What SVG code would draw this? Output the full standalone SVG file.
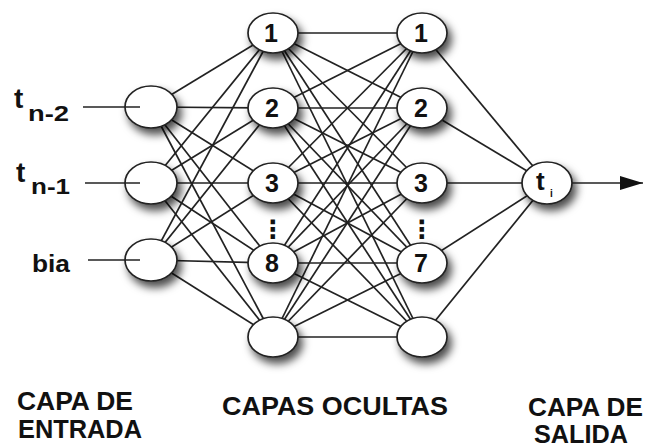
<svg xmlns="http://www.w3.org/2000/svg" width="645" height="447" viewBox="0 0 645 447">
<defs>
<filter id="sh" x="-50%" y="-50%" width="220%" height="220%">
<feDropShadow dx="4" dy="6" stdDeviation="4" flood-color="#000" flood-opacity="0.7"/>
</filter>
<marker id="arr" markerWidth="23" markerHeight="14" refX="23" refY="7" orient="auto" markerUnits="userSpaceOnUse"><path d="M0,0 L23,7 L0,14 Z" fill="#111"/></marker>
</defs>
<style>
.n ellipse{fill:#fff;stroke:#222;stroke-width:1.7}
.n .s{filter:url(#sh)}
.c line{stroke:#222;stroke-width:1.7}
text{font-family:"Liberation Sans",Arial,sans-serif;font-weight:bold;fill:#111}
.d{font-size:25px;text-anchor:middle}
.lbl{font-size:25px}
.dots{font-family:"DejaVu Sans",sans-serif;font-size:25px;text-anchor:middle}
</style>
<rect width="645" height="447" fill="#fff"/>
<g id="connectors" class="c">
<line x1="151" y1="107" x2="273" y2="33"/><line x1="151" y1="107" x2="273" y2="108"/><line x1="151" y1="107" x2="273" y2="183"/><line x1="151" y1="107" x2="273" y2="263"/><line x1="151" y1="107" x2="273" y2="337"/>
<line x1="151" y1="183" x2="273" y2="33"/><line x1="151" y1="183" x2="273" y2="108"/><line x1="151" y1="183" x2="273" y2="183"/><line x1="151" y1="183" x2="273" y2="263"/><line x1="151" y1="183" x2="273" y2="337"/>
<line x1="151" y1="260" x2="273" y2="33"/><line x1="151" y1="260" x2="273" y2="108"/><line x1="151" y1="260" x2="273" y2="183"/><line x1="151" y1="260" x2="273" y2="263"/><line x1="151" y1="260" x2="273" y2="337"/>
<line x1="273" y1="33" x2="422" y2="33"/><line x1="273" y1="33" x2="422" y2="108"/><line x1="273" y1="33" x2="422" y2="183"/><line x1="273" y1="33" x2="422" y2="263"/><line x1="273" y1="33" x2="422" y2="337"/>
<line x1="273" y1="108" x2="422" y2="33"/><line x1="273" y1="108" x2="422" y2="108"/><line x1="273" y1="108" x2="422" y2="183"/><line x1="273" y1="108" x2="422" y2="263"/><line x1="273" y1="108" x2="422" y2="337"/>
<line x1="273" y1="183" x2="422" y2="33"/><line x1="273" y1="183" x2="422" y2="108"/><line x1="273" y1="183" x2="422" y2="183"/><line x1="273" y1="183" x2="422" y2="263"/><line x1="273" y1="183" x2="422" y2="337"/>
<line x1="273" y1="263" x2="422" y2="33"/><line x1="273" y1="263" x2="422" y2="108"/><line x1="273" y1="263" x2="422" y2="183"/><line x1="273" y1="263" x2="422" y2="263"/><line x1="273" y1="263" x2="422" y2="337"/>
<line x1="273" y1="337" x2="422" y2="33"/><line x1="273" y1="337" x2="422" y2="108"/><line x1="273" y1="337" x2="422" y2="183"/><line x1="273" y1="337" x2="422" y2="263"/><line x1="273" y1="337" x2="422" y2="337"/>
<line x1="422" y1="33" x2="547" y2="183"/><line x1="422" y1="108" x2="547" y2="183"/><line x1="422" y1="183" x2="547" y2="183"/><line x1="422" y1="263" x2="547" y2="183"/><line x1="422" y1="337" x2="547" y2="183"/>
</g>
<g id="in1" class="n"><ellipse class="s" cx="151" cy="107" rx="26" ry="21"/></g>
<g id="in2" class="n"><ellipse class="s" cx="151" cy="183" rx="26" ry="21"/></g>
<g id="in3" class="n"><ellipse class="s" cx="151" cy="260" rx="26" ry="21"/></g>
<g id="h1_1" class="n"><ellipse class="s" cx="273" cy="33" rx="25" ry="20"/><text class="d" x="271" y="42">1</text></g>
<g id="h1_2" class="n"><ellipse class="s" cx="273" cy="108" rx="25" ry="20"/><text class="d" x="272" y="117">2</text></g>
<g id="h1_3" class="n"><ellipse class="s" cx="273" cy="183" rx="25" ry="20"/><text class="d" x="272" y="192">3</text></g>
<g id="h1_8" class="n"><ellipse class="s" cx="273" cy="263" rx="25" ry="20"/><text class="d" x="272" y="272">8</text></g>
<g id="h1_b" class="n"><ellipse class="s" cx="273" cy="337" rx="25" ry="20"/></g>
<g id="h2_1" class="n"><ellipse class="s" cx="422" cy="33" rx="25" ry="20"/><text class="d" x="421" y="42">1</text></g>
<g id="h2_2" class="n"><ellipse class="s" cx="422" cy="108" rx="25" ry="20"/><text class="d" x="421" y="117">2</text></g>
<g id="h2_3" class="n"><ellipse class="s" cx="422" cy="183" rx="25" ry="20"/><text class="d" x="421" y="192">3</text></g>
<g id="h2_7" class="n"><ellipse class="s" cx="422" cy="263" rx="25" ry="20"/><text class="d" x="421" y="272">7</text></g>
<g id="h2_b" class="n"><ellipse class="s" cx="422" cy="337" rx="25" ry="20"/></g>
<g id="out" class="n"><ellipse class="s" cx="547" cy="183" rx="25" ry="21"/><text x="536" y="190" font-size="26">t</text><text x="550" y="197" font-size="10" fill="#c80">i</text></g>
<g id="dots"><text class="dots" x="273" y="238">⋮</text><text class="dots" x="422" y="238">⋮</text></g>
<g id="inputs" class="c">
<line x1="83" y1="107" x2="140" y2="107"/><line x1="85" y1="183" x2="140" y2="183"/><line x1="88" y1="260" x2="140" y2="260"/>
<line x1="572" y1="183" x2="643" y2="183" marker-end="url(#arr)"/>
</g>
<g id="labels">
<text x="14" y="108" font-size="28">t</text><text x="28" y="121" font-size="22" textLength="41" lengthAdjust="spacingAndGlyphs">n-2</text>
<text x="16" y="182" font-size="28">t</text><text x="31" y="194" font-size="22" textLength="39" lengthAdjust="spacingAndGlyphs">n-1</text>
<text x="32" y="272" font-size="24" textLength="38" lengthAdjust="spacingAndGlyphs">bia</text>
<text class="lbl" x="17" y="410" textLength="116" lengthAdjust="spacingAndGlyphs">CAPA DE</text>
<text class="lbl" x="18" y="438" textLength="124" lengthAdjust="spacingAndGlyphs">ENTRADA</text>
<text class="lbl" x="222" y="415" textLength="226" lengthAdjust="spacingAndGlyphs">CAPAS OCULTAS</text>
<text class="lbl" x="528" y="416" textLength="115" lengthAdjust="spacingAndGlyphs">CAPA DE</text>
<text class="lbl" x="534" y="443" textLength="94" lengthAdjust="spacingAndGlyphs">SALIDA</text>
</g>
</svg>
